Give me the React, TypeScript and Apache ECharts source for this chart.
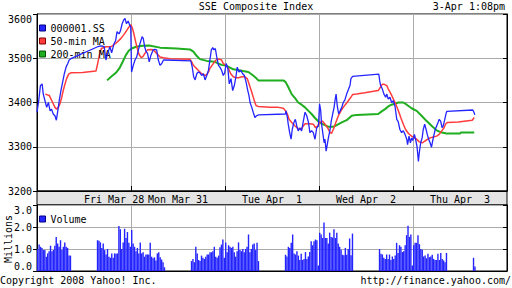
import React, { useEffect, useRef } from "react";
import * as echarts from "echarts";

const FONT = "'DejaVu Sans Mono', 'Liberation Mono', monospace";

// x axis: trading minutes from Fri Mar 28 09:30; each day spans 330 min (09:30-15:00, lunch 11:30-13:00)
const dayLabels = ["Fri Mar 28", "Mon Mar 31", "Tue Apr  1", "Wed Apr  2", "Thu Apr  3"];
const priceTicks = [3200, 3300, 3400, 3500, 3600];
const volumeTicks = [0, 1, 2, 3];

// 000001.SS price [minute, value]
const price: [number, number][] = [
  [0,3378],[6,3404],[12,3438],[18,3442],[22,3419],[28,3404],[34,3389],[40,3400],[46,3381],[51,3385],[57,3374],[63,3370],[68,3360],[73,3381],[78,3404],[84,3427],[90,3446],[96,3465],[102,3480],[108,3488],[113,3496],[119,3499],
  [213,3526],[225,3528],[236,3526],[242,3496],[248,3511],[256,3526],[262,3512],[270,3532],[276,3540],[281,3560],[288,3555],[293,3562],[299,3578],[304,3586],[309,3590],[314,3578],[320,3584],[326,3574],[329,3572],
  [332,3469],[338,3484],[344,3496],[350,3503],[356,3519],[362,3534],[369,3549],[373,3545],[378,3526],[383,3515],[388,3511],[394,3492],[400,3507],[408,3519],[414,3520],[420,3519],[426,3496],[432,3484],[438,3488],[444,3496],[450,3496],
  [540,3494],[545,3480],[550,3458],[555,3451],[561,3465],[566,3469],[572,3467],[578,3461],[584,3465],[590,3451],[596,3461],[602,3473],[607,3496],[612,3519],[617,3524],[621,3519],[626,3522],[631,3503],[637,3484],[642,3480],[648,3473],[654,3461],[659,3467],
  [664,3488],[670,3477],[675,3442],[681,3454],[687,3427],[693,3439],[699,3461],[703,3480],[709,3469],[715,3473],[722,3465],[728,3461],[734,3446],[740,3427],[744,3416],[748,3400],[754,3389],[759,3378],[765,3366],[771,3370],[778,3372],
  [872,3374],[874,3381],[879,3366],[882,3351],[887,3332],[892,3317],[896,3339],[902,3355],[907,3362],[912,3347],[917,3336],[923,3343],[929,3336],[935,3358],[941,3378],[947,3370],[953,3355],[958,3332],[964,3336],[970,3332],[976,3317],[982,3343],[988,3347],
  [992,3397],[996,3381],[999,3351],[1004,3328],[1008,3309],[1011,3317],[1015,3290],[1018,3301],[1023,3320],[1029,3339],[1033,3358],[1038,3374],[1043,3389],[1046,3404],[1050,3419],[1054,3393],[1059,3374],[1064,3381],[1070,3389],[1075,3400],[1081,3406],[1087,3419],[1093,3429],[1099,3439],[1102,3454],[1108,3459],
  [1200,3464],[1203,3450],[1206,3439],[1212,3431],[1218,3419],[1224,3412],[1228,3419],[1233,3408],[1239,3412],[1245,3400],[1251,3404],[1257,3391],[1263,3362],[1268,3357],[1274,3339],[1280,3332],[1286,3336],[1292,3328],[1298,3317],[1301,3305],[1306,3324],[1311,3309],[1315,3320],[1319,3314],
  [1325,3328],[1329,3317],[1334,3301],[1339,3267],[1342,3286],[1347,3309],[1352,3320],[1356,3339],[1361,3351],[1366,3339],[1370,3328],[1375,3317],[1380,3309],[1385,3299],[1389,3313],[1394,3328],[1398,3339],[1403,3347],[1408,3355],[1412,3362],[1417,3358],[1422,3343],[1426,3347],[1431,3360],[1436,3375],[1439,3380],
  [1530,3383],[1534,3378],[1537,3372],
];

// 50-min moving average [minute, value]
const ma50: [number, number][] = [
  [29,3419],[43,3416],[55,3400],[63,3389],[69,3385],[75,3389],[81,3398],[87,3412],[92,3427],[98,3441],[104,3454],[111,3464],[119,3467],[160,3468],[207,3471],[213,3488],[219,3507],[226,3522],[242,3526],[260,3526],[277,3534],[295,3545],[307,3555],[318,3566],[329,3576],
  [335,3568],[341,3553],[346,3538],[352,3522],[358,3509],[365,3502],[371,3503],[379,3511],[388,3519],[400,3520],[408,3519],[420,3511],[432,3503],[444,3501],[467,3499],[537,3498],[543,3492],[549,3484],[555,3480],[566,3473],[578,3465],[590,3461],[596,3463],[602,3469],[607,3477],[619,3488],[631,3498],[640,3498],[648,3496],[654,3488],
  [664,3484],[672,3477],[680,3465],[689,3458],[699,3456],[707,3456],[719,3458],[730,3458],[738,3454],[748,3435],[756,3419],[763,3404],[769,3393],[777,3391],[818,3389],[847,3389],[865,3387],[873,3381],[879,3374],[885,3362],[894,3355],[906,3347],[917,3341],[927,3339],[935,3347],[941,3352],[958,3352],[970,3351],[978,3343],[985,3347],
  [993,3355],[1002,3358],[1011,3351],[1020,3343],[1029,3332],[1034,3330],[1040,3339],[1049,3355],[1058,3370],[1067,3381],[1075,3389],[1085,3397],[1093,3404],[1102,3412],[1108,3418],[1122,3419],[1151,3422],[1187,3426],[1198,3427],[1204,3433],[1212,3441],[1219,3441],[1228,3438],[1233,3431],[1243,3419],[1251,3408],[1259,3397],[1269,3381],[1277,3366],[1286,3351],[1294,3339],[1304,3330],[1315,3324],
  [1325,3320],[1333,3317],[1342,3311],[1353,3309],[1362,3313],[1372,3317],[1380,3320],[1391,3322],[1403,3324],[1412,3328],[1421,3336],[1429,3343],[1435,3352],[1441,3355],[1479,3356],[1528,3360],[1535,3366],
];

// 200-min moving average [minute, value]
const ma200: [number, number][] = [
  [246,3450],[260,3458],[277,3467],[289,3477],[301,3492],[312,3507],[322,3517],
  [332,3522],[348,3526],[371,3528],[394,3529],[432,3524],[490,3522],[537,3520],[549,3515],[561,3505],[572,3498],[596,3494],[625,3492],[637,3488],[648,3485],
  [666,3483],[689,3475],[724,3471],[742,3469],[759,3461],[771,3454],[777,3450],[865,3450],[873,3446],[882,3435],[894,3419],[906,3410],[917,3400],[929,3395],[941,3389],[953,3381],[964,3374],[976,3365],[988,3357],
  [999,3352],[1011,3349],[1023,3345],[1040,3345],[1052,3349],[1070,3355],[1087,3360],[1105,3370],[1122,3372],[1198,3374],[1210,3380],[1222,3385],[1233,3391],[1245,3395],[1269,3400],[1286,3400],[1298,3395],[1315,3387],
  [1333,3381],[1350,3370],[1368,3358],[1386,3347],[1403,3337],[1421,3332],[1438,3330],[1485,3330],[1488,3332],[1535,3332],
];

// 5-minute volume (millions), per trading session
const volFriAM = [1.0,1.2,1.1,1.05,0.95,0.95,0.65,0.8,0.9,1.15,0.9,0.95,1.15,1.55,1.25,1.1,1.4,0.95,1.1,1.3,1.1,1.05,0.7,0.7];
const volFriPM = [1.4,1.37,1.3,1.05,1.25,0.95,0.75,1.0,0.65,0.6,0.8,0.6,0.8,0.78,0.8,2.05,1.9,1.0,1.3,1.92,1.5,1.77,1.28,1.1];
const volMonAM = [1.86,1.25,1.1,0.9,1.05,0.8,1.3,0.8,0.85,0.65,0.75,0.75,0.75,1.28,0.65,0.58,0.62,0.48,0.8,0.85,0.62,0.52,0.4,0.17];
const volMonPM = [0.45,0.55,0.4,1.1,0.8,0.5,0.45,0.7,0.6,0.55,0.65,0.75,0.75,0.85,0.85,0.9,1.1,0.65,0.6,0.7,1.08,1.2,1.43,0.6];
const volTueAM = [1.3,0.85,1.17,1.1,1.05,1.1,0.85,0.65,0.9,1.3,0.95,0.9,1.0,0.85,1.0,1.1,1.66,0.85,1.0,1.2,1.25,0.95,1.28,0.45];
const volTuePM = [0.74,0.66,1.1,1.05,1.28,1.66,0.8,0.75,0.9,0.7,0.5,0.78,0.5,0.55,0.86,0.55,0.66,0.86,1.35,1.17,1.35,1.43,1.4,0.25];
const volWedAM = [1.74,1.66,1.5,2.2,1.5,1.5,1.25,1.74,1.55,1.52,1.9,1.5,1.74,1.25,1.1,0.97,0.74,0.72,1.05,0.74,1.0,1.48,0.72,1.7];
const volWedPM = [1.0,0.78,0.75,0.6,0.55,0.75,0.55,0.75,0.5,0.66,0.55,0.7,1.28,0.82,1.17,1.1,0.86,0.9,1.17,1.63,2.06,1.55,1.66,0.25];
const volThuAM = [1.17,1.28,1.28,1.62,1.22,1.0,0.97,0.66,0.7,0.58,0.78,0.63,0.66,0.74,0.55,0.5,0.5,0.78,0.5,0.82,0.55,0.48,0.4,0.82];
const volThuPM = [0.6,0.2];

const sessions: [number, number, number[]][] = [
  [0, 0, volFriAM], [0, 210, volFriPM],
  [1, 0, volMonAM], [1, 210, volMonPM],
  [2, 0, volTueAM], [2, 210, volTuePM],
  [3, 0, volWedAM], [3, 210, volWedPM],
  [4, 0, volThuAM], [4, 210, volThuPM],
];

const BLUE = "#2424ff";
const RED = "#ff3b3b";
const GREEN = "#1fae1f";
const GRIDC = "#ababab";

export default function App() {
  const ref = useRef<HTMLDivElement>(null);
  useEffect(() => {
    if (!ref.current) return;
    const chart = echarts.init(ref.current, undefined, { renderer: "svg" });
    const volume: [number, number][] = [];
    sessions.forEach(([day, start, vals]) => {
      vals.forEach((v, k) => volume.push([day * 330 + start + k * 5 + 2.5, v]));
    });
    const txt = { fontFamily: FONT, fontSize: 10, color: "#000" };
    chart.setOption({
      animation: false,
      backgroundColor: "#fff",
      textStyle: { fontFamily: FONT },
      title: [
        { text: "SSE Composite Index", left: "center", top: 1, padding: 0, textStyle: { ...txt, fontWeight: "normal" } },
        { text: "3-Apr 1:08pm", right: 7, top: 1, padding: 0, textStyle: { ...txt, fontWeight: "normal" } },
        { text: "Copyright 2008 Yahoo! Inc.", left: 0, top: 275, padding: 0, textStyle: { ...txt, fontWeight: "normal" } },
        { text: "http://finance.yahoo.com/", right: 1, top: 275, padding: 0, textStyle: { ...txt, fontWeight: "normal" } },
      ],
      legend: [
        {
          orient: "vertical", left: 39, top: 22, padding: 0, itemWidth: 6, itemHeight: 6, itemGap: 1,
          selectedMode: false, textStyle: { ...txt, lineHeight: 12 },
          data: [
            { name: "000001.SS", icon: "rect", itemStyle: { color: BLUE, borderColor: "#000080", borderWidth: 1 } },
            { name: "50-min MA", icon: "rect", itemStyle: { color: RED, borderColor: "#800000", borderWidth: 1 } },
            { name: "200-min MA", icon: "rect", itemStyle: { color: GREEN, borderColor: "#005000", borderWidth: 1 } },
          ],
        },
        {
          orient: "vertical", left: 39, top: 213, padding: 0, itemWidth: 6, itemHeight: 6,
          selectedMode: false, textStyle: { ...txt, lineHeight: 12 },
          data: [{ name: "Volume", icon: "rect", itemStyle: { color: BLUE, borderColor: "#000080", borderWidth: 1 } }],
        },
      ],
      graphic: [
        { type: "rect", z: -1, shape: { x: 37, y: 191, width: 470, height: 14 }, style: { fill: "#e4e4e4", stroke: "#000", lineWidth: 1 } },
        { type: "text", x: 8, y: 239, rotation: Math.PI / 2, style: { text: "Millions", fill: "#000", font: `10px ${FONT}`, textAlign: "center", textVerticalAlign: "middle" } },
      ],
      grid: [
        { left: 37, top: 14, width: 470, height: 177, show: true, borderColor: "#000", borderWidth: 1, outerBoundsMode: "none", containLabel: false },
        { left: 37, top: 205, width: 470, height: 66, show: true, borderColor: "#000", borderWidth: 1, outerBoundsMode: "none", containLabel: false },
      ],
      xAxis: [
        {
          type: "value", gridIndex: 0, min: 0, max: 1650, interval: 330,
          axisLine: { show: true, lineStyle: { color: "#000" } },
          axisTick: { show: true, inside: true, length: 5, lineStyle: { color: "#000" } },
          axisLabel: { show: false },
          splitLine: { show: true, lineStyle: { color: GRIDC, width: 1 } },
        },
        {
          type: "category", gridIndex: 0, position: "bottom", boundaryGap: true,
          data: dayLabels.map((d, i) => (i === 0 ? { value: d, textStyle: { align: "left" } } : d)),
          axisLine: { show: false }, axisTick: { show: false }, splitLine: { show: false },
          axisLabel: { ...txt, margin: 3, interval: 0 },
        },
        {
          type: "value", gridIndex: 1, min: 0, max: 1650, interval: 330,
          axisLine: { show: true, lineStyle: { color: "#000" } },
          axisTick: { show: false }, axisLabel: { show: false },
          splitLine: { show: true, lineStyle: { color: GRIDC, width: 1 } },
        },
      ],
      yAxis: [
        {
          type: "value", gridIndex: 0, min: priceTicks[0], max: priceTicks[priceTicks.length - 1], interval: 100,
          axisLine: { show: true, lineStyle: { color: "#000" } },
          axisTick: { show: true, length: 4, lineStyle: { color: "#000" } },
          axisLabel: { ...txt, margin: 5, formatter: (v: number) => String(v), verticalAlignMaxLabel: "top" },
          splitLine: { show: true, lineStyle: { color: GRIDC, width: 1 } },
        },
        {
          type: "value", gridIndex: 0, position: "right", min: priceTicks[0], max: priceTicks[priceTicks.length - 1], interval: 100,
          axisLine: { show: true, lineStyle: { color: "#000" } },
          axisTick: { show: true, inside: true, length: 4, lineStyle: { color: "#000" } },
          axisLabel: { show: false }, splitLine: { show: false },
        },
        {
          type: "value", gridIndex: 1, min: volumeTicks[0], max: volumeTicks[volumeTicks.length - 1], interval: 1,
          axisLine: { show: true, lineStyle: { color: "#000" } },
          axisTick: { show: true, length: 4, lineStyle: { color: "#000" } },
          axisLabel: { ...txt, margin: 5, formatter: (v: number) => v.toFixed(1), verticalAlignMaxLabel: "top", verticalAlignMinLabel: "bottom" },
          splitLine: { show: true, lineStyle: { color: GRIDC, width: 1 } },
        },
        {
          type: "value", gridIndex: 1, position: "right", min: 0, max: 3, interval: 1,
          axisLine: { show: true, lineStyle: { color: "#000" } },
          axisTick: { show: true, inside: true, length: 4, lineStyle: { color: "#000" } },
          axisLabel: { show: false }, splitLine: { show: false },
        },
      ],
      series: [
        {
          name: "200-min MA", type: "line", xAxisIndex: 0, yAxisIndex: 0, data: ma200,
          showSymbol: false, symbol: "none", color: GREEN, lineStyle: { color: GREEN, width: 2 }, z: 2,
        },
        {
          name: "50-min MA", type: "line", xAxisIndex: 0, yAxisIndex: 0, data: ma50,
          showSymbol: false, symbol: "none", color: RED, lineStyle: { color: RED, width: 1.5 }, z: 3,
        },
        {
          name: "000001.SS", type: "line", xAxisIndex: 0, yAxisIndex: 0, data: price,
          showSymbol: false, symbol: "none", color: BLUE, lineStyle: { color: BLUE, width: 1.3 }, z: 4,
        },
        {
          name: "Volume", type: "bar", xAxisIndex: 2, yAxisIndex: 2, data: volume,
          barWidth: 1.4, color: BLUE, itemStyle: { color: BLUE },
        },
      ],
    });
    return () => chart.dispose();
  }, []);
  return <div ref={ref} style={{ width: 512, height: 288, position: "absolute", left: 0, top: 0 }} />;
}
